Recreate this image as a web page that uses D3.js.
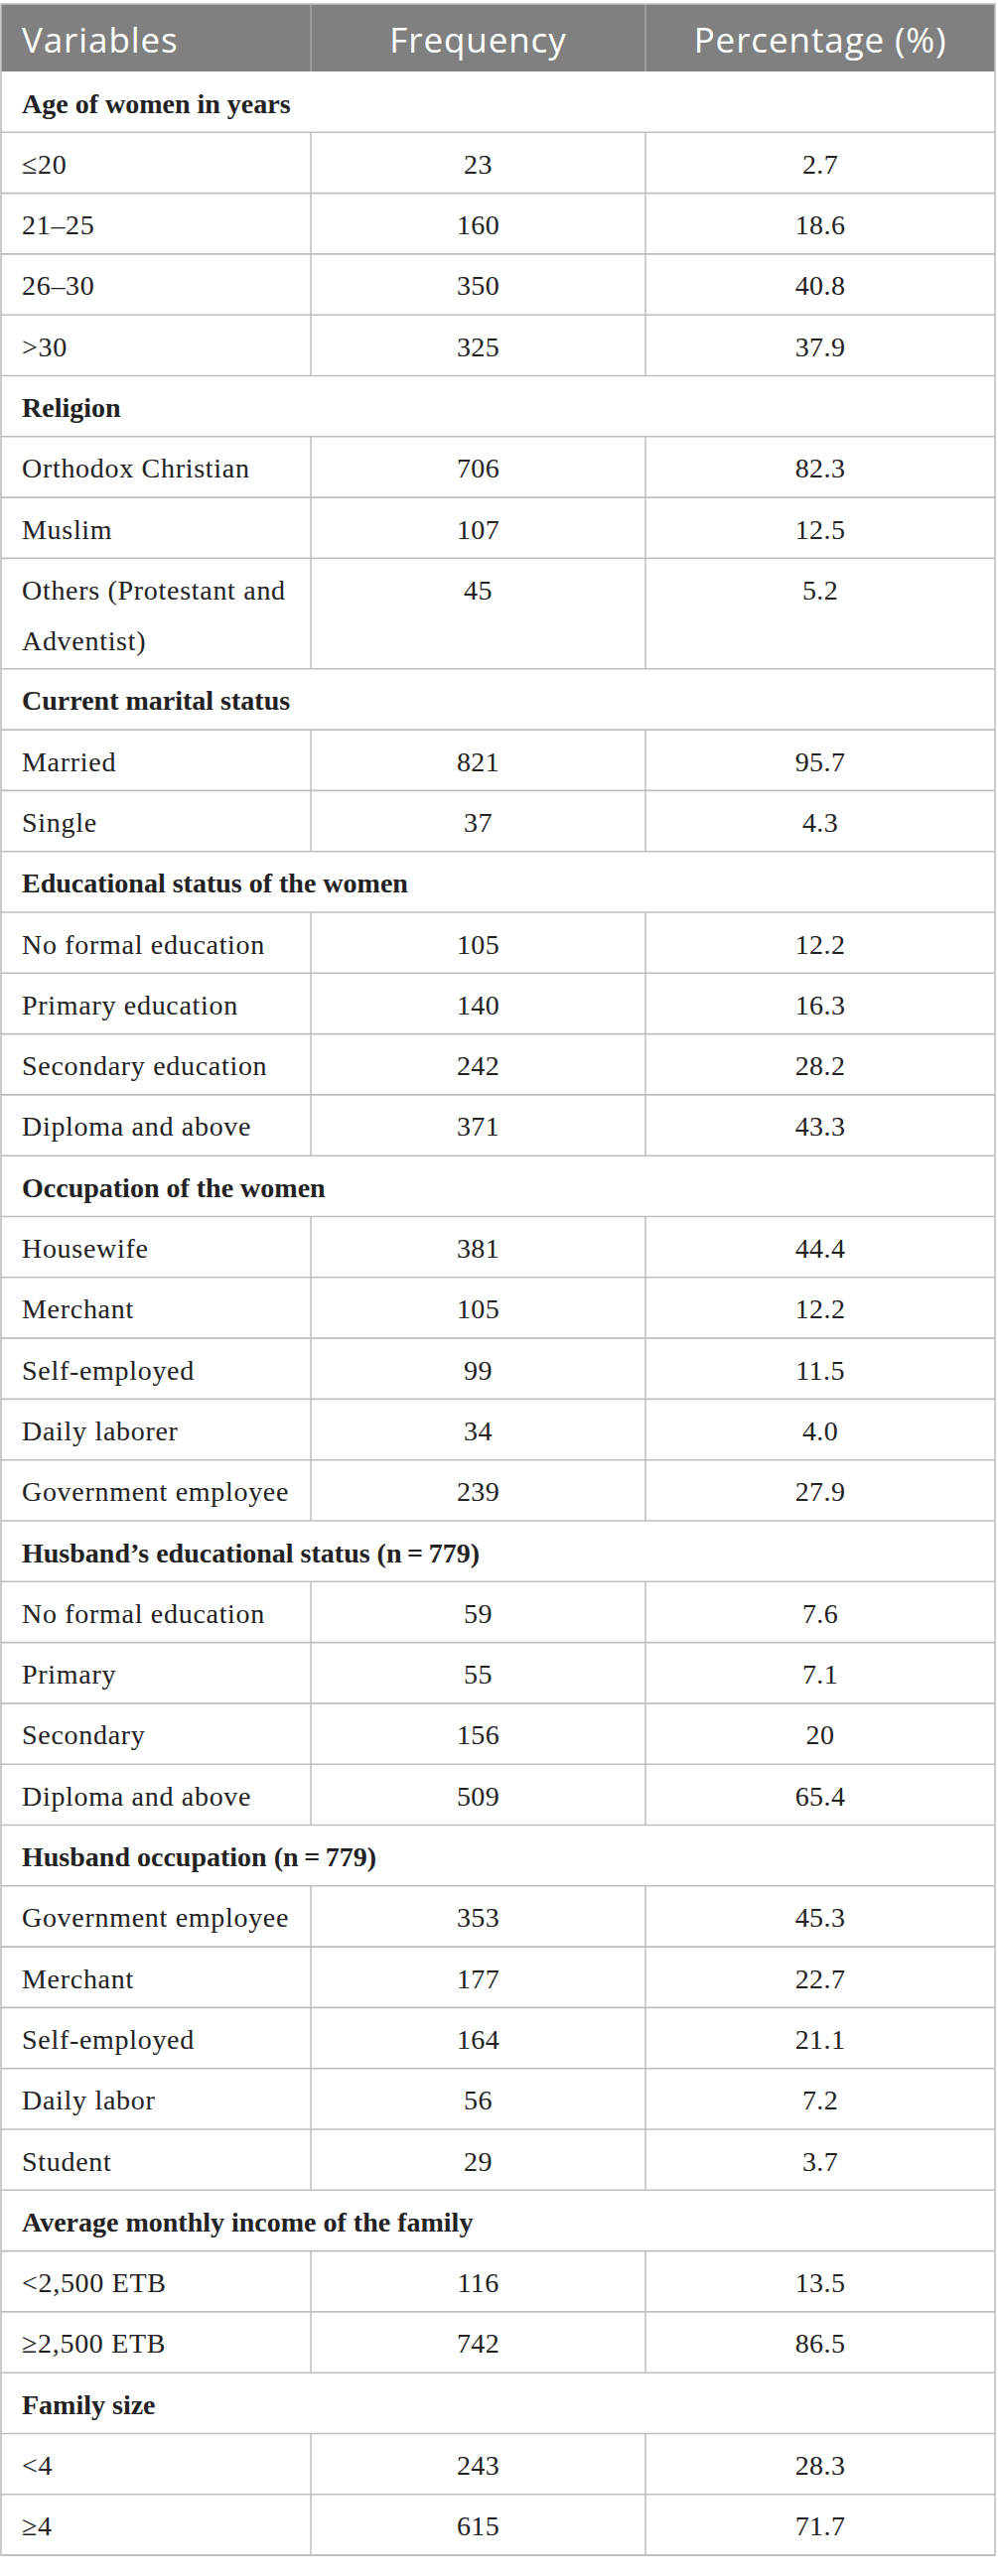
<!DOCTYPE html>
<html>
<head>
<meta charset="utf-8">
<script src="https://cdn.jsdelivr.net/npm/d3@7"></script>
<style>
  body { margin: 0; background: #fff; }
  svg { display: block; }
</style>
</head>
<body>
<div id="chart"></div>
<script>
// Column headings
const headers = ["Variables", "Frequency", "Percentage (%)"];

// Section titles
const sections = [
  "Age of women in years",
  "Religion",
  "Current marital status",
  "Educational status of the women",
  "Occupation of the women",
  "Husband\u2019s educational status (n\u2009=\u2009779)",
  "Husband occupation (n\u2009=\u2009779)",
  "Average monthly income of the family",
  "Family size"
];

// Categories inside each section
const categories = [
  ["\u226420", "21\u201325", "26\u201330", ">30"],
  ["Orthodox Christian", "Muslim", "Others (Protestant and Adventist)"],
  ["Married", "Single"],
  ["No formal education", "Primary education", "Secondary education", "Diploma and above"],
  ["Housewife", "Merchant", "Self-employed", "Daily laborer", "Government employee"],
  ["No formal education", "Primary", "Secondary", "Diploma and above"],
  ["Government employee", "Merchant", "Self-employed", "Daily labor", "Student"],
  ["<2,500 ETB", "\u22652,500 ETB"],
  ["<4", "\u22654"]
];

// Frequencies
const frequencies = [
  [23, 160, 350, 325],
  [706, 107, 45],
  [821, 37],
  [105, 140, 242, 371],
  [381, 105, 99, 34, 239],
  [59, 55, 156, 509],
  [353, 177, 164, 56, 29],
  [116, 742],
  [243, 615]
];

// Percentages, kept as printed
const percentages = [
  ["2.7", "18.6", "40.8", "37.9"],
  ["82.3", "12.5", "5.2"],
  ["95.7", "4.3"],
  ["12.2", "16.3", "28.2", "43.3"],
  ["44.4", "12.2", "11.5", "4.0", "27.9"],
  ["7.6", "7.1", "20", "65.4"],
  ["45.3", "22.7", "21.1", "7.2", "3.7"],
  ["13.5", "86.5"],
  ["28.3", "71.7"]
];

const width = 1005, height = 2595;
const tableLeft = 1, tableRight = 1002, tableTop = 4, headH = 68;
const colEdges = [tableLeft, 313, 650, tableRight];
const rowH = 61.3, lineH = 50.1, lineGap = 51, baseOff = 41.6;
const padX = 21;
const wrapWidth = 285;
const gridColor = "#bebebe";
const textColor = "#222";
const serif = "'Liberation Serif', 'Times New Roman', serif";

const svg = d3.select("#chart").append("svg")
  .attr("width", width)
  .attr("height", height);

// Flat list of rows
const rows = [];
sections.forEach((s, i) => {
  rows.push({ type: "section", label: s });
  categories[i].forEach((c, j) => {
    rows.push({ type: "item", label: c, freq: frequencies[i][j], pct: percentages[i][j] });
  });
});

// Measure and wrap labels
const measure = svg.append("text")
  .attr("font-family", serif)
  .attr("font-size", 28)
  .attr("letter-spacing", "0.7px");

function wrapLines(label) {
  const words = label.split(" ");
  const lines = [];
  let line = [];
  words.forEach(w => {
    line.push(w);
    measure.text(line.join(" "));
    if (measure.node().getComputedTextLength() > wrapWidth && line.length > 1) {
      line.pop();
      lines.push(line.join(" "));
      line = [w];
    }
  });
  lines.push(line.join(" "));
  return lines;
}

rows.forEach(r => {
  r.lines = r.type === "item" ? wrapLines(r.label) : [r.label];
  r.h = rowH + (r.lines.length - 1) * lineH;
});
measure.remove();

const bodyTop = tableTop + headH;
const ends = d3.cumsum(rows, r => r.h);
rows.forEach((r, i) => { r.y = bodyTop + ends[i] - r.h; });
const bodyBottom = bodyTop + ends[ends.length - 1];

const colCenter = i => (colEdges[i] + colEdges[i + 1]) / 2;

// Header
const head = svg.append("g").attr("class", "header");
head.append("rect")
  .attr("x", tableLeft).attr("y", tableTop)
  .attr("width", tableRight - tableLeft).attr("height", headH)
  .attr("fill", "#808080");

head.selectAll("line")
  .data(colEdges.slice(1, 3))
  .enter().append("line")
  .attr("x1", d => d).attr("x2", d => d)
  .attr("y1", tableTop).attr("y2", bodyTop)
  .attr("stroke", "#a4a4a4")
  .attr("stroke-width", 1.5);

head.selectAll("text")
  .data(headers)
  .enter().append("text")
  .attr("x", (d, i) => i === 0 ? tableLeft + padX : colCenter(i))
  .attr("y", tableTop + 48.5)
  .attr("text-anchor", (d, i) => i === 0 ? "start" : "middle")
  .attr("font-family", "'Open Sans', sans-serif")
  .attr("font-size", 35)
  .attr("letter-spacing", "0.9px")
  .attr("fill", "#fff")
  .text(d => d);

// Body rows
const body = svg.append("g").attr("class", "body");

const row = body.selectAll("g.row")
  .data(rows)
  .enter().append("g")
  .attr("class", "row")
  .attr("transform", d => `translate(0,${d.y})`);

// horizontal rule under each row
row.append("line")
  .attr("x1", tableLeft).attr("x2", tableRight)
  .attr("y1", d => d.h).attr("y2", d => d.h)
  .attr("stroke", gridColor)
  .attr("stroke-width", 1.6);

// vertical separators for item rows
row.filter(d => d.type === "item")
  .selectAll("line.sep")
  .data(d => colEdges.slice(1, 3).map(x => ({ x, h: d.h })))
  .enter().append("line")
  .attr("class", "sep")
  .attr("x1", d => d.x).attr("x2", d => d.x)
  .attr("y1", 0).attr("y2", d => d.h)
  .attr("stroke", gridColor)
  .attr("stroke-width", 1.5);

// labels
const label = row.append("text")
  .attr("x", tableLeft + padX)
  .attr("y", baseOff)
  .attr("font-family", serif)
  .attr("font-size", 28)
  .attr("font-weight", d => d.type === "section" ? "bold" : "normal")
  .attr("letter-spacing", d => d.type === "section" ? "0px" : "0.7px")
  .attr("fill", textColor);

label.selectAll("tspan")
  .data(d => d.lines)
  .enter().append("tspan")
  .attr("x", tableLeft + padX)
  .attr("dy", (d, i) => i === 0 ? 0 : lineGap)
  .text(d => d);

// numbers
const items = row.filter(d => d.type === "item");
items.append("text")
  .attr("x", colCenter(1))
  .attr("y", baseOff)
  .attr("text-anchor", "middle")
  .attr("font-family", serif)
  .attr("font-size", 28)
  .attr("letter-spacing", "0.4px")
  .attr("fill", textColor)
  .text(d => d.freq);

items.append("text")
  .attr("x", colCenter(2))
  .attr("y", baseOff)
  .attr("text-anchor", "middle")
  .attr("font-family", serif)
  .attr("font-size", 28)
  .attr("letter-spacing", "0.4px")
  .attr("fill", textColor)
  .text(d => d.pct);

// outer frame
svg.append("rect")
  .attr("x", tableLeft).attr("y", tableTop)
  .attr("width", tableRight - tableLeft).attr("height", bodyBottom - tableTop)
  .attr("fill", "none")
  .attr("stroke", gridColor)
  .attr("stroke-width", 1.6);
</script>
</body>
</html>
